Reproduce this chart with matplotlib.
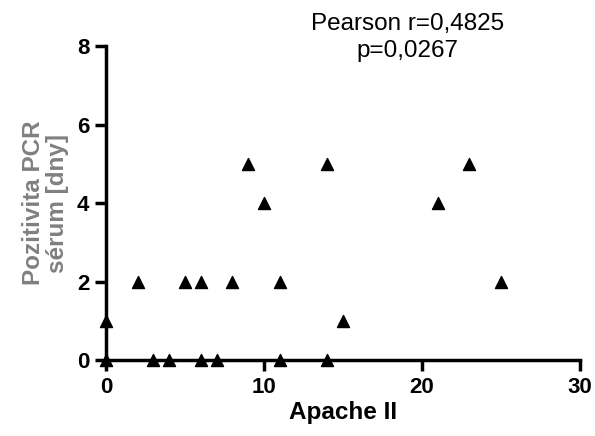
import matplotlib.pyplot as plt

# Apache II score vs. days of PCR positivity (serum)
apache = [0, 0, 2, 3, 4, 5, 6, 6, 7, 8, 9, 10, 11, 11, 14, 14, 15, 21, 23, 25]
dny = [0, 1, 2, 0, 0, 2, 2, 0, 0, 2, 5, 4, 2, 0, 5, 0, 1, 4, 5, 2]

x_ticks = [0, 10, 20, 30]
y_ticks = [0, 2, 4, 6, 8]

plt.rcParams['font.family'] = ['Liberation Sans', 'DejaVu Sans']

fig = plt.figure(figsize=(5.95, 4.36), dpi=100)
ax = fig.add_axes([0.178, 0.174, 0.797, 0.72])

ax.scatter(apache, dny, marker='^', s=75, color='black', zorder=3, clip_on=False)

ax.set_xlim(0, 30)
ax.set_ylim(0, 8)
ax.set_xticks(x_ticks)
ax.set_yticks(y_ticks)

for side in ['top', 'right']:
    ax.spines[side].set_visible(False)
for side in ['left', 'bottom']:
    ax.spines[side].set_linewidth(2.5)

ax.tick_params(width=2.5, length=8, direction='out', labelsize=16, pad=4)
for lab in ax.get_xticklabels() + ax.get_yticklabels():
    lab.set_fontweight('bold')

ax.set_xlabel("Apache II", fontsize=17.5, fontweight='bold', labelpad=2)
ax.set_ylabel("Pozitivita PCR\nsérum [dny]", fontsize=17.5, fontweight='bold',
              color='#808080', labelpad=6, linespacing=1.05)

fig.text(0.685, 0.913, "Pearson r=0,4825\np=0,0267", ha='center', va='center',
         fontsize=17.5, linespacing=1.3)

plt.savefig("out.png", dpi=100)
